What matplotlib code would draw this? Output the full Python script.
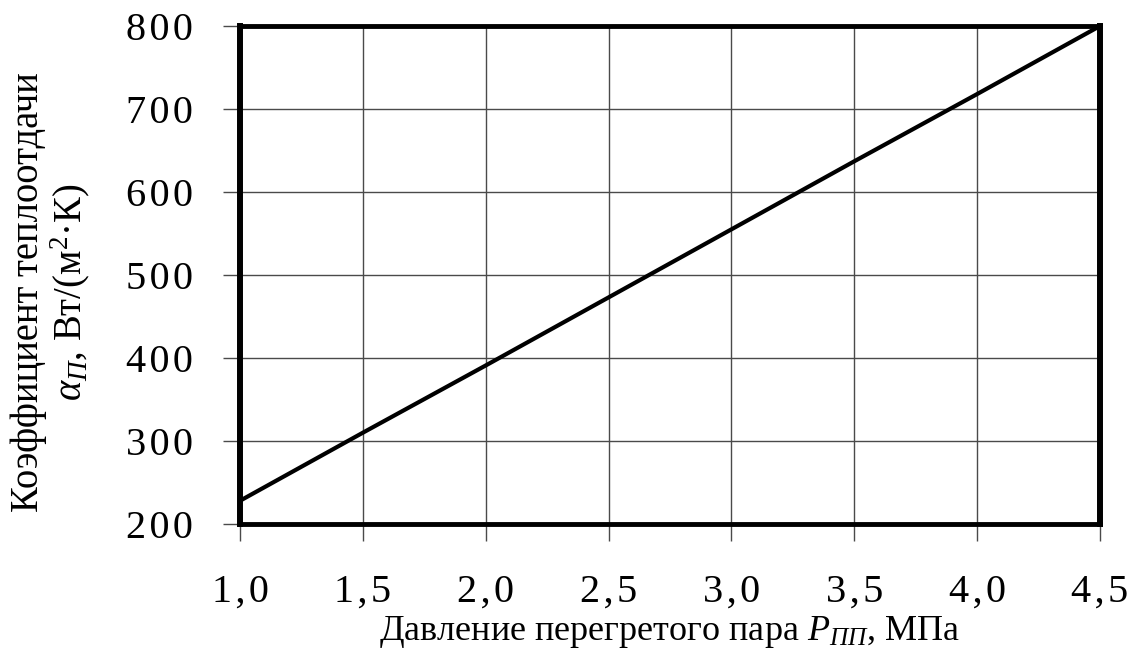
import matplotlib

matplotlib.use("Agg")
import matplotlib.pyplot as plt

plt.rcParams["font.family"] = ["Liberation Serif", "DejaVu Serif"]
plt.rcParams["mathtext.fontset"] = "custom"
plt.rcParams["mathtext.rm"] = "Liberation Serif"
plt.rcParams["mathtext.it"] = "Liberation Serif:italic"

# Data
pressure = [1.0, 1.5, 2.0, 2.5, 3.0, 3.5, 4.0, 4.5]
alpha = [228, 310, 391, 473, 555, 637, 718, 800]
x_ticks = [1.0, 1.5, 2.0, 2.5, 3.0, 3.5, 4.0, 4.5]
y_ticks = [200, 300, 400, 500, 600, 700, 800]

SP = "\u200a"


def spaced(s):
    return SP.join(s)


W, H = 1132, 655
fig = plt.figure(figsize=(W / 100, H / 100), dpi=100)
ax = fig.add_axes([240 / W, 1 - 524 / H, 860 / W, 498 / H])

ax.plot(pressure, alpha, color="black", lw=3, solid_capstyle="butt", zorder=3)

ax.set_xlim(1.0, 4.5)
ax.set_ylim(200, 800)
ax.set_xticks(x_ticks)
ax.set_yticks(y_ticks)
ax.set_xticklabels([spaced(f"{v:.1f}".replace(".", ",")) for v in x_ticks])
ax.set_yticklabels([spaced(str(v)) for v in y_ticks])
ax.grid(True, color="#4a4a4a", lw=1.0)
ax.set_axisbelow(True)

for side, s in ax.spines.items():
    s.set_linewidth(4.3 if side in ("left", "right") else 3.5)
    s.set_color("black")
    s.set_zorder(4)

ax.tick_params(axis="both", direction="out", length=12, width=1.0,
               color="#4a4a4a", labelsize=29, labelcolor="black")
ax.tick_params(axis="x", pad=24)
ax.tick_params(axis="y", pad=22)

ax.set_xlabel("Давление перегретого пара $\\mathit{P}_{\\mathit{ПП}}$, МПа",
              fontsize=26, labelpad=2)

# two-line y label, centred a little below the axes middle as in the source
fig.text(51 / W, 1 - 292 / H,
         "Коэффициент теплоотдачи\n"
         "$\\mathit{\\alpha}_{\\mathit{П}}$, Вт/(м$^{2}$·К)",
         fontsize=27.8, rotation=90, ha="center", va="center",
         multialignment="center", linespacing=1.07)

fig.savefig("out.png", dpi=100, facecolor="white")
